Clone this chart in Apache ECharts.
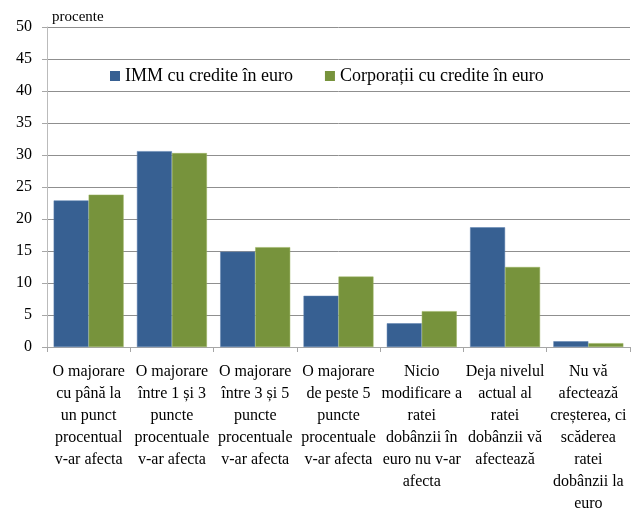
<!DOCTYPE html>
<html>
<head>
<meta charset="utf-8">
<script src="https://cdn.jsdelivr.net/npm/echarts@6/dist/echarts.min.js"></script>
<style>
  html, body { margin: 0; padding: 0; background: #fff; }
  #chart { width: 632px; height: 510px; }
</style>
</head>
<body>
<div id="chart"></div>
<script>
var categories = [
  'O majorare\ncu până la\nun punct\nprocentual\nv-ar afecta',
  'O majorare\nîntre 1 și 3\npuncte\nprocentuale\nv-ar afecta',
  'O majorare\nîntre 3 și 5\npuncte\nprocentuale\nv-ar afecta',
  'O majorare\nde peste 5\npuncte\nprocentuale\nv-ar afecta',
  'Nicio\nmodificare a\nratei\ndobânzii în\neuro nu v-ar\nafecta',
  'Deja nivelul\nactual al\nratei\ndobânzii vă\nafectează',
  'Nu vă\nafectează\ncreșterea, ci\nscăderea\nratei\ndobânzii la\neuro'
];
var immValues = [22.9, 30.6, 14.9, 8.0, 3.7, 18.7, 0.9];
var corpValues = [23.8, 30.3, 15.6, 11.0, 5.6, 12.5, 0.6];
var seriesNames = ['IMM cu credite în euro', 'Corporații cu credite în euro'];

var font = '"Liberation Serif", "Times New Roman", serif';
var chart = echarts.init(document.getElementById('chart'));

chart.setOption({
  animation: false,
  textStyle: { fontFamily: font, color: '#000' },
  color: ['#376092', '#77933C'],
  grid: { left: 47, right: 2, top: 27, bottom: 163, containLabel: false, outerBoundsMode: 'none' },
  legend: {
    left: 105,
    top: 62,
    itemWidth: 10,
    itemHeight: 10,
    itemGap: 32,
    icon: 'rect',
    itemStyle: { borderWidth: 0 },
    textStyle: { fontFamily: font, fontSize: 18, color: '#000' },
    data: seriesNames
  },
  graphic: [{
    type: 'text',
    left: 52,
    top: 10,
    style: { text: 'procente', font: '15px ' + font, fill: '#000' }
  }],
  xAxis: {
    type: 'category',
    data: categories,
    axisLine: { lineStyle: { color: '#a6a6a6' } },
    axisTick: { show: true, length: 5, lineStyle: { color: '#a6a6a6' } },
    axisLabel: {
      interval: 0,
      fontFamily: font,
      fontSize: 16,
      lineHeight: 22,
      color: '#000',
      margin: 14
    }
  },
  yAxis: {
    type: 'value',
    min: 0,
    max: 50,
    interval: 5,
    axisLine: { show: true, lineStyle: { color: '#bbb' } },
    axisTick: { show: true, length: 5, lineStyle: { color: '#a6a6a6' } },
    axisLabel: { fontFamily: font, fontSize: 16, color: '#000', margin: 15 },
    splitLine: { lineStyle: { color: '#8f8f8f' } }
  },
  series: [
    {
      name: seriesNames[0],
      type: 'bar',
      data: immValues,
      barGap: '0%',
      barCategoryGap: '16%',
      itemStyle: { borderColor: '#5a7fae', borderWidth: 0.5 }
    },
    {
      name: seriesNames[1],
      type: 'bar',
      data: corpValues,
      barGap: '0%',
      barCategoryGap: '16%',
      itemStyle: { borderColor: '#9ab35f', borderWidth: 0.5 }
    }
  ]
});
</script>
</body>
</html>
